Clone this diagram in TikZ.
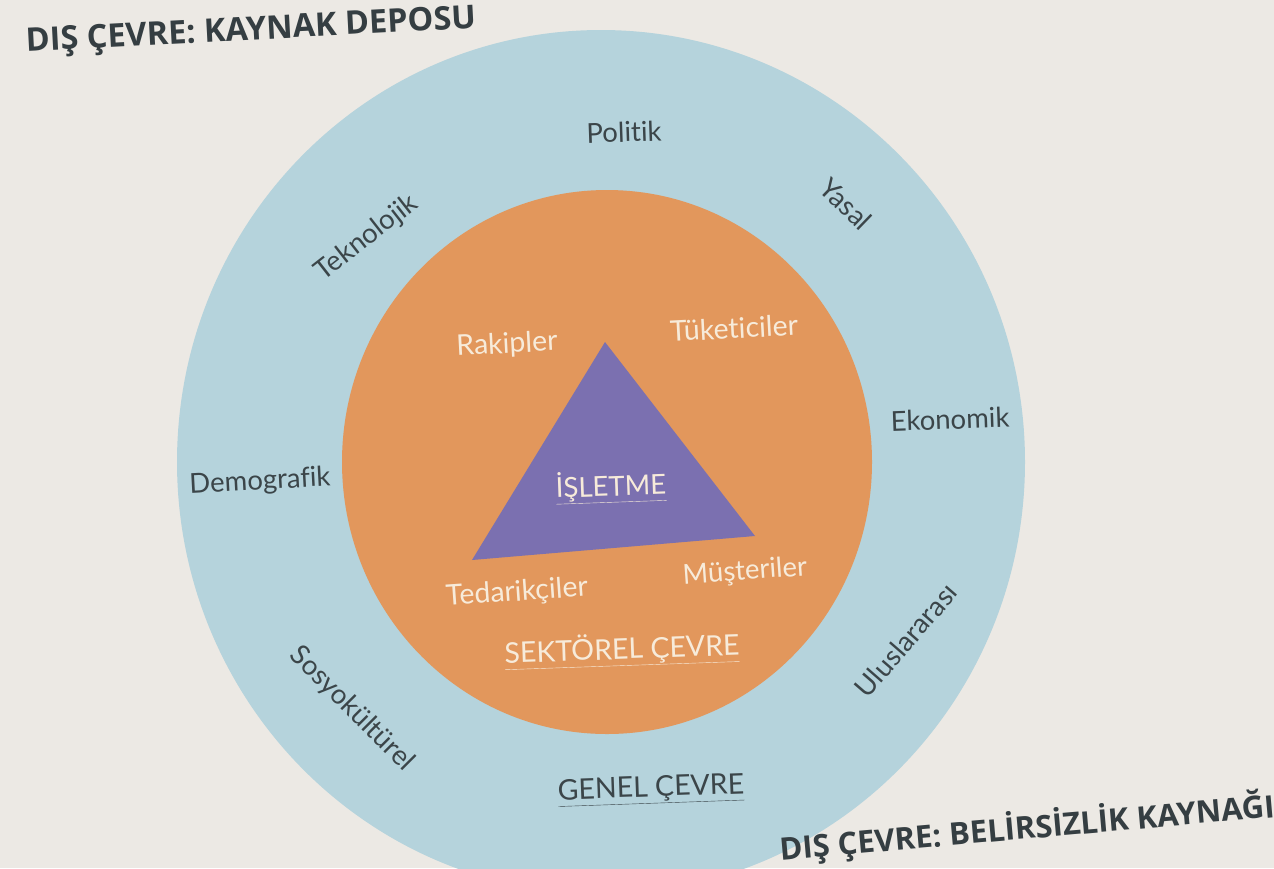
\documentclass[tikz,border=0pt]{standalone}
\usepackage{fontspec}
\setmainfont{Lato}[Ligatures={NoCommon}]
\newfontfamily\titlefont{Open Sans}[Ligatures={NoCommon}]
\definecolor{paper}{HTML}{ECE9E4}
\definecolor{outerblue}{HTML}{B5D3DC}
\definecolor{innerorange}{HTML}{E2975C}
\definecolor{tripurple}{HTML}{7B70B0}
\definecolor{darktext}{HTML}{3B4549}
\definecolor{lighttext}{HTML}{F7EBDA}
\tikzset{
  outerlbl/.style={font=\fontsize{27.5}{30}\selectfont, text=darktext, inner sep=0pt},
  innerlbl/.style={font=\fontsize{28.5}{31}\selectfont, text=lighttext, inner sep=0pt},
  titlelbl/.style={font=\titlefont\bfseries\fontsize{31}{35}\selectfont, text=darktext!90!black, inner sep=0pt}
}
\begin{document}
\begin{tikzpicture}[x=1pt,y=-1pt]
\fill[paper] (0,0) rectangle (1274,868);
\useasboundingbox (0,0) rectangle (1274,868);
\begin{scope}
\clip (0,0) rectangle (1274,868);
\fill[outerblue] (601,462) ellipse [x radius=424, y radius=432];
\end{scope}
\fill[innerorange] (607,462) ellipse [x radius=265, y radius=272];
\fill[tripurple] (605,342) -- (472,560) -- (755,536) -- cycle;
\node (isletme) [innerlbl, font=\fontsize{27.5}{30}\selectfont, rotate=2] at (611,487) {\underline{İŞLETME}};
% outer labels
\node (politik) [outerlbl, rotate=2] at (624,132) {Politik};
\node (yasal) [outerlbl, rotate=-44] at (846,204) {Yasal};
\node (tekno) [outerlbl, rotate=38] at (367,238) {Teknolojik};
\node (ekon) [outerlbl, rotate=2] at (950,419) {Ekonomik};
\node (demo) [outerlbl, rotate=3] at (260,482) {Demografik};
\node (sosyo) [outerlbl, rotate=-45] at (352,709) {Sosyokültürel};
\node (ulus) [outerlbl, rotate=49] at (906,640) {Uluslararası};
\node (genel) [outerlbl, font=\fontsize{28.5}{31}\selectfont, rotate=2] at (651,790) {\underline{GENEL ÇEVRE}};
% inner labels
\node (rakip) [innerlbl, rotate=3] at (507,345) {Rakipler};
\node (tuket) [innerlbl, rotate=3] at (734,328) {Tüketiciler};
\node (tedarik) [innerlbl, rotate=4] at (517,593) {Tedarikçiler};
\node (muster) [innerlbl, font=\fontsize{27.5}{30}\selectfont, rotate=4] at (745,572) {Müşteriler};
\node (sektor) [innerlbl, rotate=2] at (622,650) {\underline{SEKTÖREL ÇEVRE}};
% titles
\node (t1) [titlelbl, font=\titlefont\bfseries\fontsize{32.5}{36}\selectfont, rotate=3] at (251,32) {DIŞ ÇEVRE: KAYNAK DEPOSU};
\node (t2) [titlelbl, rotate=5] at (1027,828) {DIŞ ÇEVRE: BELİRSİZLİK KAYNAĞI};
\end{tikzpicture}
\end{document}
